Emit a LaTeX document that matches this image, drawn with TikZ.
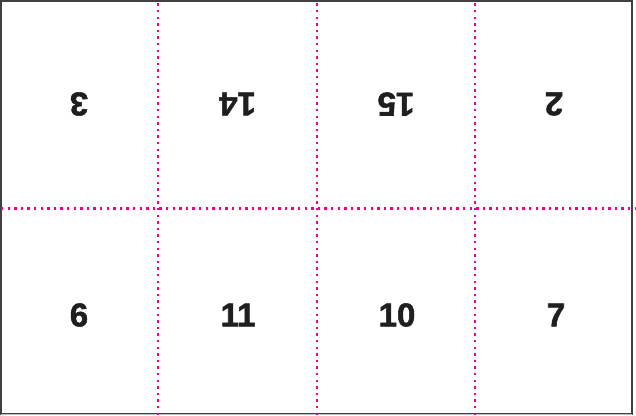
\documentclass[tikz,border=0pt]{standalone}
\usepackage{fontspec}
\newfontfamily\pagefont[FakeBold=1.6]{Liberation Sans Bold}
\usepackage{tikz}
\definecolor{cutmagenta}{RGB}{236,0,140}

\begin{document}
\begin{tikzpicture}[x=1pt,y=1pt,
    page/.style={font=\fontsize{33}{33}\pagefont,text=black!88},
    cutline/.style={cutmagenta,line width=2.6pt,dash pattern=on 2.4pt off 4.2pt}]
  \useasboundingbox (0,0) rectangle (636,415);
  \draw[line width=1.5pt,black!75] (1,1) rectangle (632,414);
  \draw[line width=1pt,black!25] (1,0.5) -- (632,0.5);
  % fold lines
  \draw[cutline] (158,0) -- (158,415);
  \draw[cutline] (317,0) -- (317,415);
  \draw[cutline] (475,0) -- (475,415);
  \draw[cutline] (1,206.5) -- (636,206.5);
  % upper row, upside down
  \node[page,rotate=180] (p3) at (79,311) {3};
  \node[page,rotate=180] (p14) at (237.5,311) {14};
  \node[page,rotate=180] (p15) at (396,311) {15};
  \node[page,rotate=180] (p2) at (554,311) {2};
  % lower row
  \node[page] (p6) at (79,100) {6};
  \node[page] (p11) at (238,100) {11};
  \node[page] (p10) at (397,100) {10};
  \node[page] (p7) at (556,100) {7};
\end{tikzpicture}
\end{document}
